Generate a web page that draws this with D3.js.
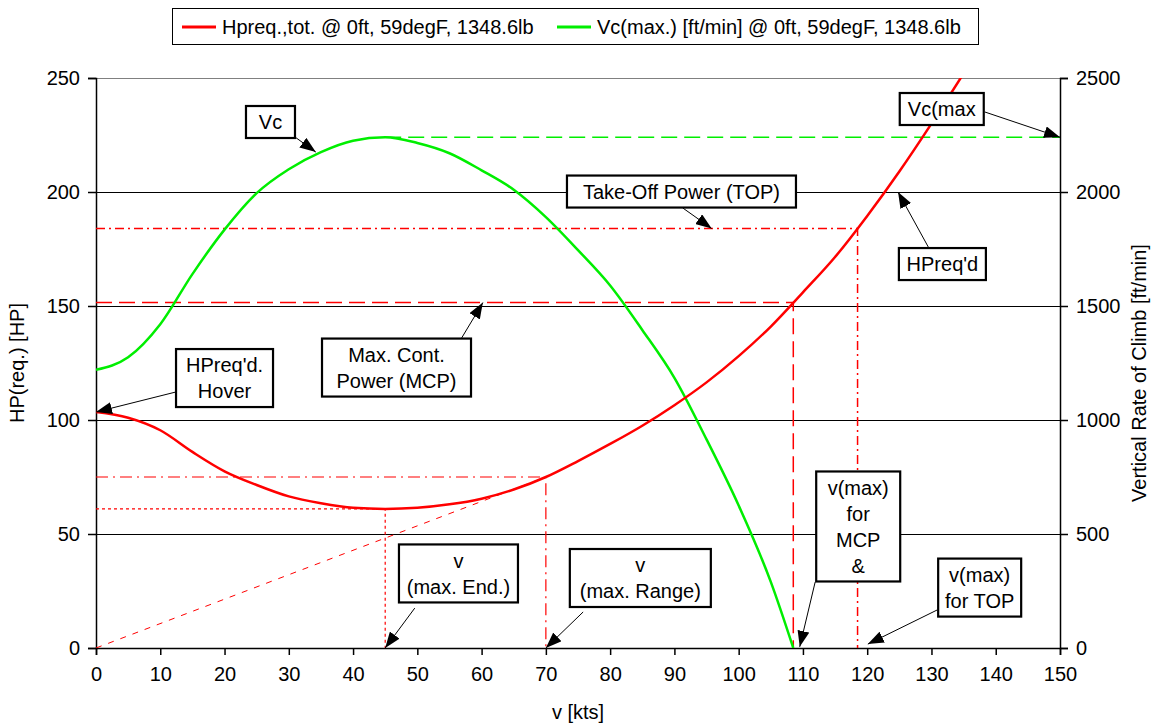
<!DOCTYPE html>
<html>
<head>
<meta charset="utf-8">
<script src="https://cdn.jsdelivr.net/npm/d3@7"></script>
<style>
  html, body { margin: 0; padding: 0; background: #fff; }
  svg { display: block; font-family: "Liberation Sans", Arial, sans-serif; }
</style>
</head>
<body>
<svg id="chart" width="1158" height="725"></svg>
<script>
// Airspeed grid for the power-required curve [kts]
const speedKts = [0, 5, 10, 15, 20, 25, 30, 35, 40, 45, 50, 55, 60, 65, 70,
                  75, 80, 85, 90, 95, 100, 105, 110, 115, 120, 125, 130, 135];
// Total power required [HP] @ 0ft, 59degF, 1348.6lb
const hpRequired = [103.5, 101, 95.5, 86, 77.5, 71.5, 66.5, 63.5, 61.5, 61, 61.5, 63, 65.5, 69.5, 75,
                    82, 89.5, 97.5, 106.5, 116.5, 128, 141, 156, 171.5, 189.5, 209, 230, 252];

// Airspeed grid for the climb-rate curve [kts]
const climbSpeedKts = [0, 5, 10, 15, 20, 25, 30, 35, 40, 45, 50, 55, 60, 65, 70,
                       75, 80, 85, 90, 95, 100, 105, 108.5];
// Maximum vertical rate of climb [ft/min]
const climbRate = [1220, 1275, 1420, 1640, 1835, 1995, 2100, 2175, 2225, 2240, 2215, 2170, 2095, 2010, 1890,
                   1745, 1590, 1395, 1185, 915, 625, 290, 0];

// Characteristic points
const mcpHP = 151.5, vMaxMCP = 108.5;      // max. continuous power and its speed
const topHP = 184, vMaxTOP = 118.5;        // take-off power and its speed
const vMaxEnd = 45, hpMaxEnd = 61;         // best endurance (min. power)
const vMaxRange = 70, hpMaxRange = 75;     // best range (tangent from origin)
const vcMax = 2240;                        // peak climb rate [ft/min]

// Axis ticks
const xTicks = d3.range(0, 151, 10);
const hpTicks = [0, 50, 100, 150, 200, 250];
const rocTicks = [0, 500, 1000, 1500, 2000, 2500];

// Legend entries
const legendLabels = ["Hpreq.,tot. @ 0ft, 59degF, 1348.6lb", "Vc(max.) [ft/min] @ 0ft, 59degF, 1348.6lb"];

// Callout texts
const calloutTexts = [
  ["Vc"],
  ["HPreq'd.", "Hover"],
  ["Max. Cont.", "Power (MCP)"],
  ["Take-Off Power (TOP)"],
  ["Vc(max"],
  ["HPreq'd"],
  ["v", "(max. End.)"],
  ["v", "(max. Range)"],
  ["v(max)", "for", "MCP", "&"],
  ["v(max)", "for TOP"]
];

// ---------------------------------------------------------------------------
const svg = d3.select("#chart");
const plotL = 96, plotR = 1060, plotT = 78, plotB = 648;
const x = d3.scaleLinear().domain([0, 150]).range([plotL, plotR]);
const yHP = d3.scaleLinear().domain([0, 250]).range([plotB, plotT]);
const yROC = d3.scaleLinear().domain([0, 2500]).range([plotB, plotT]);
const RED = "#ff0000", GREEN = "#00ee00", FS = 20;

const defs = svg.append("defs");
defs.append("clipPath").attr("id", "plotClip")
  .append("rect").attr("x", plotL).attr("y", plotT).attr("width", plotR - plotL).attr("height", plotB - plotT);

defs.append("marker")
  .attr("id", "arrowHead").attr("markerUnits", "userSpaceOnUse")
  .attr("viewBox", "0 0 16 12").attr("refX", 16).attr("refY", 6)
  .attr("markerWidth", 16).attr("markerHeight", 12).attr("orient", "auto")
  .append("path").attr("d", "M0,0 L16,6 L0,12 Z").attr("fill", "#000");

// Horizontal gridlines
svg.append("g").selectAll("line").data(hpTicks.filter(d => d > 0)).join("line")
  .attr("x1", plotL).attr("x2", plotR)
  .attr("y1", d => Math.round(yHP(d)) + 0.5).attr("y2", d => Math.round(yHP(d)) + 0.5)
  .attr("stroke", d => d === 250 ? "#808080" : "#000").attr("stroke-width", 1);

// Axes
const xAxis = svg.append("g").attr("transform", `translate(0,${plotB})`)
  .call(d3.axisBottom(x).tickValues(xTicks).tickSize(7).tickPadding(12));
const yAxisL = svg.append("g").attr("transform", `translate(${plotL},0)`)
  .call(d3.axisLeft(yHP).tickValues(hpTicks).tickSize(8).tickPadding(8));
const yAxisR = svg.append("g").attr("transform", `translate(${plotR},0)`)
  .call(d3.axisRight(yROC).tickValues(rocTicks).tickFormat(d3.format("d")).tickSize(8).tickPadding(8));
[xAxis, yAxisL, yAxisR].forEach(g => {
  g.selectAll("text").attr("font-size", FS).attr("fill", "#000").attr("font-family", "Liberation Sans, Arial, sans-serif");
  g.selectAll("line,path").attr("stroke", "#000").attr("stroke-width", 1.5);
});

// Axis titles
svg.append("text").attr("transform", `translate(24,${(plotT + plotB) / 2}) rotate(-90)`)
  .attr("text-anchor", "middle").attr("font-size", FS).text("HP(req.) [HP]");
svg.append("text").attr("transform", `translate(1146,${(plotT + plotB) / 2 + 10}) rotate(-90)`)
  .attr("text-anchor", "middle").attr("font-size", FS).text("Vertical Rate of Climb [ft/min]");
svg.append("text").attr("x", x(75)).attr("y", 719).attr("text-anchor", "middle")
  .attr("font-size", FS).text("v [kts]");

// Reference lines
const refs = svg.append("g").attr("clip-path", "url(#plotClip)").attr("fill", "none");
function refPath(pts, dash, width, color) {
  refs.append("path")
    .attr("d", d3.line().x(d => x(d[0])).y(d => yHP(d[1]))(pts))
    .attr("stroke", color || RED).attr("stroke-width", width).attr("stroke-dasharray", dash);
}
// tangent from the origin to the best-range point
refPath([[0, 0], [vMaxRange, hpMaxRange]], "6,7", 1);
// best endurance
refPath([[0, hpMaxEnd], [vMaxEnd, hpMaxEnd], [vMaxEnd, 0]], "3,3", 1.2);
// best range
refPath([[0, hpMaxRange], [vMaxRange, hpMaxRange], [vMaxRange, 0]], "12,5,2,5", 1.2);
// MCP
refPath([[0, mcpHP], [vMaxMCP, mcpHP], [vMaxMCP, 0]], "16,7", 1.5);
// TOP
refPath([[0, topHP], [vMaxTOP, topHP], [vMaxTOP, 0]], "9,4,2,4", 1.5);
// peak climb rate
refs.append("line")
  .attr("x1", x(climbSpeedKts[climbRate.indexOf(d3.max(climbRate))])).attr("x2", x(150))
  .attr("y1", yROC(vcMax)).attr("y2", yROC(vcMax))
  .attr("stroke", GREEN).attr("stroke-width", 1.5).attr("stroke-dasharray", "16,7");

// Curves
const curves = svg.append("g").attr("clip-path", "url(#plotClip)").attr("fill", "none");
curves.append("path")
  .datum(climbSpeedKts.map((v, i) => [v, climbRate[i]]))
  .attr("d", d3.line().x(d => x(d[0])).y(d => yROC(d[1])).curve(d3.curveMonotoneX))
  .attr("stroke", GREEN).attr("stroke-width", 2.5);
curves.append("path")
  .datum(speedKts.map((v, i) => [v, hpRequired[i]]))
  .attr("d", d3.line().x(d => x(d[0])).y(d => yHP(d[1])).curve(d3.curveMonotoneX))
  .attr("stroke", RED).attr("stroke-width", 2.5);

// Callouts: box centre, box width, arrow tail and arrow tip in chart units (kts, HP)
const calloutLayout = [
  { c: [27.15, 230.7], w: 49,  tail: [30.97, 224.1], tip: [34.2, 217.5] },
  { c: [20.0, 118.4],  w: 97,  tail: [12.45, 112.3], tip: [0, hpRequired[0]] },
  { c: [46.76, 123.0], w: 149, tail: [56.9, 136],    tip: [60.2, mcpHP] },
  { c: [91.1, 200.2],  w: 229, tail: [91.3, 193],    tip: [95.8, topHP] },
  { c: [131.6, 236.4], w: 84,  tail: [138.3, 235.1], tip: [150, vcMax / 10] },
  { c: [131.7, 168.4], w: 87,  tail: [129.5, 175.9], tip: [124.8, 200] },
  { c: [56.4, 32.7],   w: 119, tail: [49.6, 17.5],   tip: [vMaxEnd, 0] },
  { c: [84.7, 30.7],   w: 141, tail: [75.8, 15.8],   tip: [vMaxRange, 0] },
  { c: [118.6, 53.3],  w: 84,  tail: [111.9, 28.9],  tip: [109.5, 0.5] },
  { c: [137.5, 26.5],  w: 83,  tail: [130.9, 16.7],  tip: [120.1, 1.7] }
];
const LH = 26;
const notes = svg.append("g");
calloutTexts.forEach((lines, i) => {
  const L = calloutLayout[i];
  const cx = x(L.c[0]), cy = yHP(L.c[1]);
  const h = lines.length * LH + 6;
  const g = notes.append("g");
  g.append("line")
    .attr("x1", x(L.tail[0])).attr("y1", yHP(L.tail[1]))
    .attr("x2", x(L.tip[0])).attr("y2", yHP(L.tip[1]))
    .attr("stroke", "#000").attr("stroke-width", 1).attr("marker-end", "url(#arrowHead)");
  g.append("rect").attr("x", cx - L.w / 2).attr("y", cy - h / 2).attr("width", L.w).attr("height", h)
    .attr("fill", "#fff").attr("stroke", "#000").attr("stroke-width", 2.2);
  lines.forEach((t, j) => {
    g.append("text").attr("x", cx).attr("y", cy + (j - (lines.length - 1) / 2) * LH)
      .attr("dy", "0.36em").attr("text-anchor", "middle").attr("font-size", FS).text(t);
  });
});

// Legend
const lg = svg.append("g");
lg.append("rect").attr("x", 172.5).attr("y", 8.5).attr("width", 806).attr("height", 36)
  .attr("fill", "#fff").attr("stroke", "#000").attr("stroke-width", 1);
const legendColors = [RED, GREEN];
const legendX = [182, 557];
legendLabels.forEach((t, i) => {
  lg.append("line").attr("x1", legendX[i]).attr("x2", legendX[i] + 34).attr("y1", 27).attr("y2", 27)
    .attr("stroke", legendColors[i]).attr("stroke-width", 3);
  lg.append("text").attr("x", legendX[i] + 40).attr("y", 34).attr("font-size", FS).text(t);
});
</script>
</body>
</html>
